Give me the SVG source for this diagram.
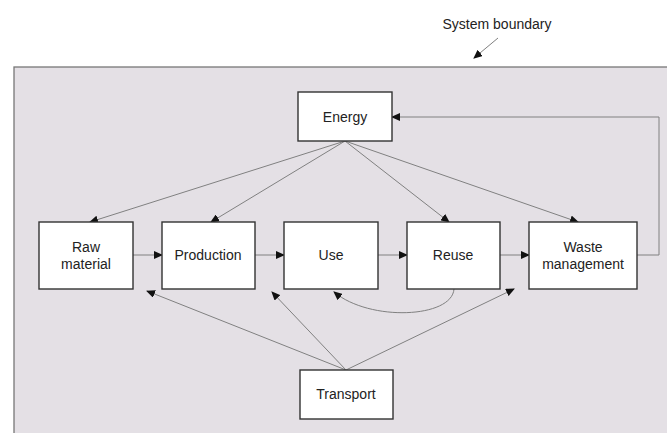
<svg xmlns="http://www.w3.org/2000/svg" width="667" height="433" viewBox="0 0 667 433">
<defs>
<marker id="ah" markerWidth="9" markerHeight="8" refX="8" refY="4" orient="auto" markerUnits="userSpaceOnUse">
<path d="M0,0 L9,4 L0,8 Z" fill="#111"/>
</marker>
<style>
.box{fill:#fff;stroke:#333;stroke-width:1.4}
.t{font-family:"Liberation Sans",Arial,sans-serif;font-size:14px;fill:#222;text-anchor:middle}
.c{fill:none;stroke:#808080;stroke-width:1}
.c path,.c line,.c polyline{marker-end:url(#ah)}
</style>
</defs>
<rect width="667" height="433" fill="#fff"/>
<rect id="boundary" x="14" y="67" width="670" height="380" fill="#e4e0e5" stroke="#777" stroke-width="1.3"/>
<g id="label-boundary">
<text class="t" x="497" y="29">System boundary</text>
</g>
<g class="c" id="connectors">
<line x1="498" y1="38" x2="474" y2="58"/>
<line x1="345" y1="141" x2="90" y2="222"/>
<line x1="345" y1="141" x2="211" y2="222"/>
<line x1="345" y1="141" x2="449" y2="222"/>
<line x1="345" y1="141" x2="578" y2="222"/>
<polyline points="637,255 659,255 659,117 392,117"/>
<line x1="133" y1="255" x2="162" y2="255"/>
<line x1="255" y1="255" x2="284" y2="255"/>
<line x1="378" y1="255" x2="407" y2="255"/>
<line x1="500" y1="255" x2="529" y2="255"/>
<path d="M454,289 C452,318 370,322 334,292"/>
<line x1="346" y1="370" x2="147" y2="291"/>
<line x1="346" y1="370" x2="272" y2="292"/>
<line x1="346" y1="370" x2="514" y2="289"/>
</g>
<g id="energy"><rect class="box" x="298" y="92" width="94" height="49"/><text class="t" x="345" y="122">Energy</text></g>
<g id="raw-material"><rect class="box" x="39" y="222" width="94" height="67"/><text class="t" x="86" y="252">Raw</text><text class="t" x="86" y="269">material</text></g>
<g id="production"><rect class="box" x="162" y="222" width="93" height="67"/><text class="t" x="208" y="260">Production</text></g>
<g id="use"><rect class="box" x="284" y="222" width="94" height="67"/><text class="t" x="331" y="260">Use</text></g>
<g id="reuse"><rect class="box" x="407" y="222" width="93" height="67"/><text class="t" x="453" y="260">Reuse</text></g>
<g id="waste"><rect class="box" x="529" y="222" width="108" height="67"/><text class="t" x="583" y="252">Waste</text><text class="t" x="583" y="269">management</text></g>
<g id="transport"><rect class="box" x="300" y="370" width="93" height="49"/><text class="t" x="346" y="399">Transport</text></g>
</svg>
